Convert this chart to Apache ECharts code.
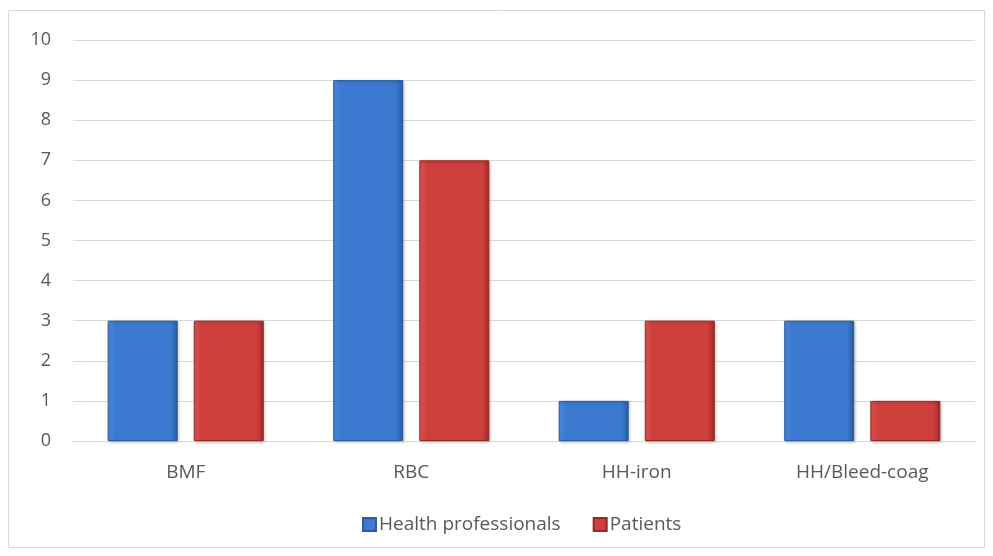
<!DOCTYPE html>
<html>
<head>
<meta charset="utf-8">
<script src="https://cdn.jsdelivr.net/npm/echarts@6/dist/echarts.min.js"></script>
<style>
  html, body { margin: 0; padding: 0; background: #fff; }
  #chart { width: 993px; height: 556px; }
</style>
</head>
<body>
<div id="chart"></div>
<script>
const categories = ['BMF', 'RBC', 'HH-iron', 'HH/Bleed-coag'];
const healthProfessionals = [3, 9, 1, 3];
const patients = [3, 7, 3, 1];
const yTicks = { min: 0, max: 10, interval: 1 };

const chart = echarts.init(document.getElementById('chart'));

// fake the bevelled Excel look with a horizontal gradient + dark edge
function bevel(light, mid, dark) {
  return new echarts.graphic.LinearGradient(0, 0, 1, 0, [
    { offset: 0, color: light },
    { offset: 0.1, color: mid },
    { offset: 0.9, color: mid },
    { offset: 1, color: dark }
  ]);
}

const blueStyle = {
  color: bevel('#4f90e4', '#3b7ad0', '#2a5a9e'),
  borderColor: '#2b5c9c',
  borderWidth: 1,
  shadowColor: 'rgba(0,0,0,0.25)',
  shadowBlur: 3,
  shadowOffsetX: 1,
  shadowOffsetY: 1
};
const redStyle = {
  color: bevel('#e45a56', '#cf3f3c', '#9e2a28'),
  borderColor: '#952826',
  borderWidth: 1,
  shadowColor: 'rgba(0,0,0,0.25)',
  shadowBlur: 3,
  shadowOffsetX: 1,
  shadowOffsetY: 1
};

const option = {
  backgroundColor: '#fff',
  animation: false,
  textStyle: { fontFamily: 'Open Sans, sans-serif' },
  graphic: [{
    type: 'rect',
    shape: { x: 8.5, y: 10.5, width: 976, height: 537 },
    style: { fill: 'none', stroke: '#d9d9d9', lineWidth: 1 },
    silent: true
  }],
  grid: { left: 73, right: 18, top: 40, bottom: 115 },
  legend: {
    bottom: 17,
    left: 357,
    itemWidth: 13,
    itemHeight: 13,
    itemGap: 32,
    icon: 'rect',
    textStyle: { color: '#595959', fontSize: 19, padding: [0, 0, 0, -2] },
    data: ['Health professionals', 'Patients']
  },
  xAxis: {
    type: 'category',
    data: categories,
    axisLine: { show: true, lineStyle: { color: '#d9d9d9' } },
    axisTick: { show: false },
    axisLabel: { color: '#595959', fontSize: 19, margin: 22 }
  },
  yAxis: {
    type: 'value',
    min: yTicks.min,
    max: yTicks.max,
    interval: yTicks.interval,
    axisLine: { show: false },
    axisTick: { show: false },
    splitLine: { lineStyle: { color: '#d9d9d9', width: 1 } },
    axisLabel: { color: '#595959', fontSize: 18, margin: 22 }
  },
  series: [
    {
      name: 'Health professionals',
      type: 'bar',
      data: healthProfessionals,
      barWidth: 70,
      barGap: '23%',
      itemStyle: blueStyle
    },
    {
      name: 'Patients',
      type: 'bar',
      data: patients,
      barWidth: 70,
      itemStyle: redStyle
    }
  ]
};

chart.setOption(option);
</script>
</body>
</html>
